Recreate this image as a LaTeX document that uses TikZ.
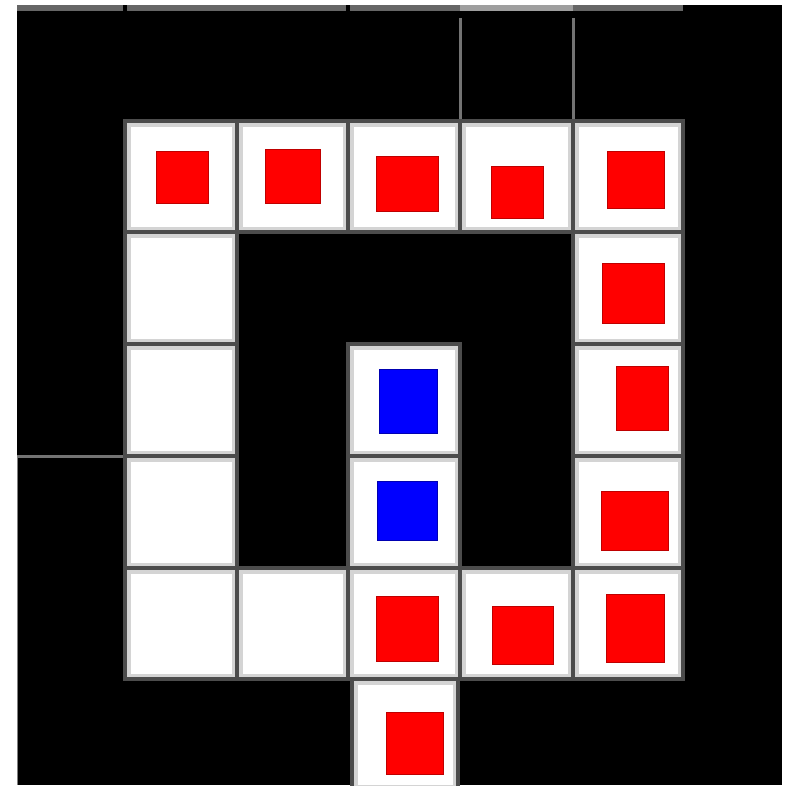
\documentclass[tikz,border=0pt]{standalone}
\begin{document}
\begin{tikzpicture}[x=1pt,y=-1pt,
  cellfill/.style={fill=white},
  innerband/.style={draw=black!17, line width=4pt},
  sepline/.style={draw=black!70, line width=3.5pt},
  faintline/.style={draw=black!55, line width=3pt},
  redsq/.style={fill=red, draw=red!75!black, line width=0.6pt},
  bluesq/.style={fill=blue, draw=blue!70!black, line width=0.6pt}]
\useasboundingbox (0,0) rectangle (790,785);
\fill[white] (0,0) rectangle (790,785);
\fill[black] (17,5) rectangle (782,785);
% top strip of the grid
\fill[black!60] (17,5) rectangle (460,11);
\fill[black!38] (460,5) rectangle (573,11);
\fill[black!60] (573,5) rectangle (683,11);
\fill[black] (123,5) rectangle (127,11);
\fill[black] (346,5) rectangle (350,11);
% faint grid lines in the black area
\draw[faintline] (460,18) -- (460,119);
\draw[faintline] (573,18) -- (573,119);
\draw[faintline] (17,456) -- (125,456);
\draw[draw=black!50, line width=1.2pt] (17.6,456) -- (17.6,785);
% white cells
\foreach \a/\b/\c/\d in {
  125/121/237/232, 237/121/348/232, 348/121/460/232, 460/121/573/232, 573/121/683/232,
  125/232/237/344, 573/232/683/344,
  125/344/237/456, 348/344/460/456, 573/344/683/456,
  125/456/237/568, 348/456/460/568, 573/456/683/568,
  125/568/237/679, 237/568/348/679, 348/568/460/679, 460/568/573/679, 573/568/683/679,
  352/679/458/790}{
  \fill[cellfill] (\a,\b) rectangle (\c,\d);
  \draw[innerband] (\a+3.5,\b+3.5) rectangle (\c-3.5,\d-3.5);
  \draw[sepline] (\a,\b) rectangle (\c,\d);
}
% red squares
\foreach \a/\b/\c/\d in {
  156/151/208/203, 265/149/320/203, 376/156/438/211, 491/166/543/218, 607/151/664/208,
  602/263/664/323, 616/366/668/430, 601/491/668/550,
  376/596/438/661, 492/606/553/664, 606/594/664/662, 386/712/443/774}{
  \filldraw[redsq] (\a,\b) rectangle (\c,\d);
}
% blue squares
\foreach \a/\b/\c/\d in {379/369/437/433, 377/481/437/540}{
  \filldraw[bluesq] (\a,\b) rectangle (\c,\d);
}
\end{tikzpicture}
\end{document}
